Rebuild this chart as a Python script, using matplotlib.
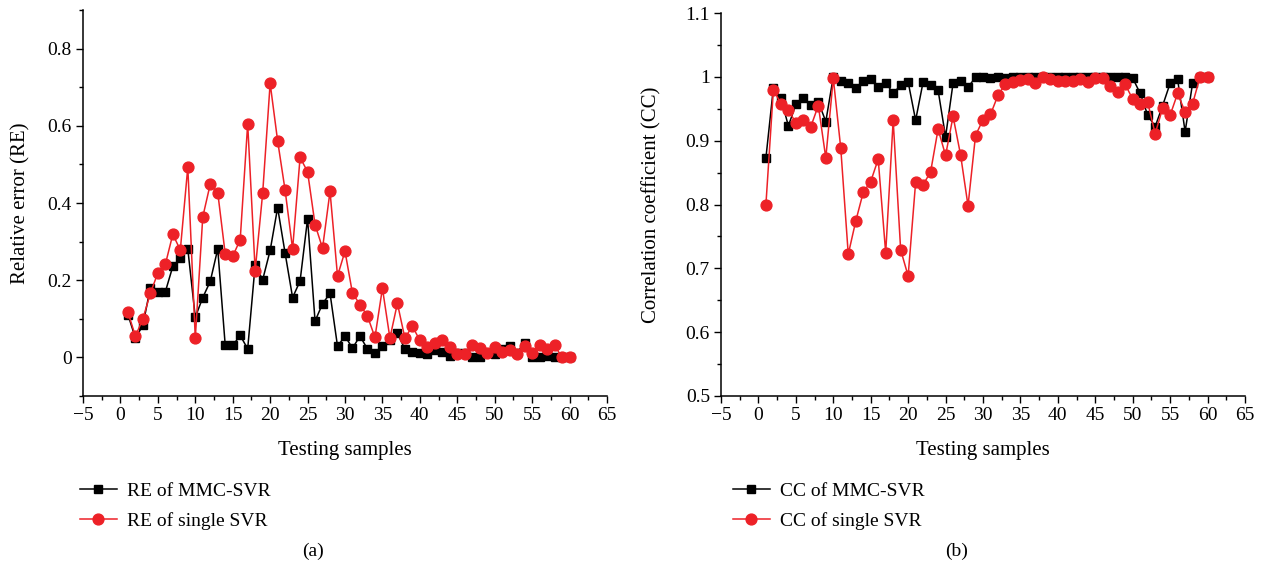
import numpy as np
import matplotlib
matplotlib.use("Agg")
import matplotlib.pyplot as plt
from matplotlib.ticker import MultipleLocator, FuncFormatter

plt.rcParams['font.family'] = ['Liberation Serif', 'DejaVu Serif']

# номера тестовых образцов
samples = np.arange(1, 61)

# относительная ошибка (RE)
re_mmc = [0.111, 0.050, 0.083, 0.181, 0.170, 0.170, 0.236, 0.257, 0.281, 0.104,
          0.155, 0.197, 0.281, 0.031, 0.031, 0.057, 0.022, 0.240, 0.201, 0.277,
          0.388, 0.270, 0.155, 0.198, 0.359, 0.094, 0.139, 0.166, 0.029, 0.055,
          0.024, 0.055, 0.022, 0.012, 0.029, 0.045, 0.062, 0.022, 0.013, 0.011,
          0.008, 0.018, 0.015, 0.003, 0.012, 0.012, 0.002, 0.002, 0.012, 0.008,
          0.022, 0.030, 0.012, 0.038, 0.002, 0.002, 0.004, 0.000, 0.000, 0.000]
re_single = [0.117, 0.055, 0.100, 0.166, 0.219, 0.241, 0.319, 0.278, 0.493, 0.050,
             0.364, 0.449, 0.427, 0.268, 0.262, 0.305, 0.605, 0.225, 0.425, 0.710,
             0.561, 0.433, 0.281, 0.518, 0.481, 0.344, 0.283, 0.430, 0.211, 0.275,
             0.166, 0.137, 0.107, 0.052, 0.179, 0.050, 0.140, 0.050, 0.081, 0.044,
             0.026, 0.038, 0.046, 0.027, 0.010, 0.009, 0.031, 0.024, 0.012, 0.028,
             0.014, 0.019, 0.008, 0.030, 0.012, 0.033, 0.023, 0.031, 0.000, 0.000]

# коэффициент корреляции (CC)
cc_mmc = [0.873, 0.983, 0.967, 0.923, 0.957, 0.967, 0.956, 0.961, 0.930, 1.000,
          0.993, 0.991, 0.983, 0.993, 0.996, 0.984, 0.991, 0.974, 0.987, 0.992,
          0.932, 0.992, 0.987, 0.979, 0.906, 0.990, 0.994, 0.984, 0.999, 0.999,
          0.998, 0.999, 0.998, 0.999, 1.000, 0.999, 1.000, 0.999, 1.000, 1.000,
          0.999, 1.000, 1.000, 0.999, 1.000, 1.000, 1.000, 1.000, 0.999, 0.998,
          0.974, 0.940, 0.922, 0.955, 0.990, 0.996, 0.914, 0.990, 1.000, 1.000]
cc_single = [0.800, 0.980, 0.958, 0.948, 0.928, 0.932, 0.922, 0.955, 0.873, 0.998,
             0.888, 0.722, 0.774, 0.819, 0.836, 0.871, 0.724, 0.932, 0.729, 0.688,
             0.835, 0.831, 0.851, 0.918, 0.877, 0.938, 0.878, 0.798, 0.908, 0.933,
             0.941, 0.971, 0.989, 0.992, 0.995, 0.996, 0.991, 0.999, 0.996, 0.993,
             0.993, 0.993, 0.996, 0.992, 0.998, 0.998, 0.985, 0.976, 0.988, 0.965,
             0.957, 0.960, 0.911, 0.951, 0.940, 0.974, 0.945, 0.958, 1.000, 1.000]

RED = "#ed2127"
W, H = 1261, 571


def style_axis(ax, ymin, ymax, ymajor, yminor, xlabel, ylabel, ypad):
    ax.set_xlim(-5, 65)
    ax.set_ylim(ymin, ymax)
    ax.xaxis.set_major_locator(MultipleLocator(5))
    ax.xaxis.set_minor_locator(MultipleLocator(2.5))
    ax.yaxis.set_major_locator(MultipleLocator(ymajor))
    ax.yaxis.set_minor_locator(MultipleLocator(yminor))
    ax.yaxis.set_major_formatter(FuncFormatter(lambda v, p: f"{v:g}"))
    for s in ("top", "right"):
        ax.spines[s].set_visible(False)
    for s in ("left", "bottom"):
        ax.spines[s].set_linewidth(1.1)
    ax.tick_params(which="major", direction="out", length=5, width=1.0,
                   labelsize=14, pad=3)
    ax.tick_params(which="minor", direction="out", length=3, width=1.0)
    ax.set_xlabel(xlabel, fontsize=15, labelpad=12)
    ax.set_ylabel(ylabel, fontsize=15, labelpad=ypad)


fig = plt.figure(figsize=(W / 100, H / 100), dpi=100)

ax1 = fig.add_axes([83 / W, 1 - 396 / H, (607 - 83) / W, (396 - 10) / H])
ax2 = fig.add_axes([721 / W, 1 - 396 / H, (1245 - 721) / W, (396 - 13) / H])

l1, = ax1.plot(samples, re_mmc, color="black", lw=1.1, marker="s", ms=6.3,
               label="RE of MMC-SVR", zorder=2)
l2, = ax1.plot(samples, re_single, color=RED, lw=1.1, marker="o", ms=7.8,
               label="RE of single SVR", zorder=3)
style_axis(ax1, -0.1, 0.9, 0.2, 0.1, "Testing samples", "Relative error (RE)", 12)

l3, = ax2.plot(samples, cc_mmc, color="black", lw=1.1, marker="s", ms=6.3,
               label="CC of MMC-SVR", zorder=2)
l4, = ax2.plot(samples, cc_single, color=RED, lw=1.1, marker="o", ms=7.8,
               label="CC of single SVR", zorder=3)
style_axis(ax2, 0.5, 1.1, 0.1, 0.05, "Testing samples",
           "Correlation coefficient (CC)", 17)

leg_kw = dict(loc="upper left", frameon=False, fontsize=14, numpoints=1,
              handlelength=1.9, handletextpad=0.5, labelspacing=0.62,
              borderaxespad=0, borderpad=0)
fig.legend(handles=[l1, l2], bbox_to_anchor=(80 / W, 1 - 482 / H), **leg_kw)
fig.legend(handles=[l3, l4], bbox_to_anchor=(733 / W, 1 - 482 / H), **leg_kw)

fig.text(313 / W, 1 - 551 / H, "(a)", ha="center", va="center", fontsize=14)
fig.text(957 / W, 1 - 551 / H, "(b)", ha="center", va="center", fontsize=14)

fig.savefig("out.png", dpi=100)
